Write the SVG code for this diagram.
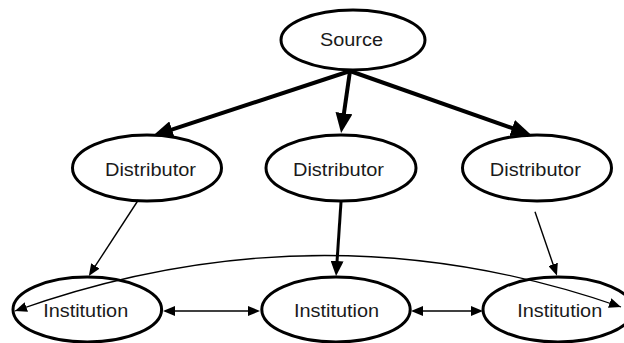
<svg xmlns="http://www.w3.org/2000/svg" width="624" height="343" viewBox="0 0 624 343">
  <style>
    .node ellipse { fill: #ffffff; stroke: #000000; stroke-width: 3; }
    .node text { font-family: "Liberation Sans", Arial, sans-serif; font-size: 18px; fill: #1a1a1a; text-anchor: middle; }
    .edge { fill: none; stroke: #000000; }
    .thick { stroke-width: 4; marker-end: url(#headBig); }
    .mid { stroke-width: 3; marker-end: url(#headMid); }
    .thin { stroke-width: 1.4; marker-end: url(#headSmall); }
    .both { stroke-width: 1.4; marker-start: url(#headSmall); marker-end: url(#headSmall); }
    .arc { stroke-width: 1.3; marker-start: url(#tipSmall); marker-end: url(#tipSmall); }
  </style>
  <defs>
    <!-- heads anchored at their base: the path stops where the head begins -->
    <marker id="headBig" markerUnits="userSpaceOnUse" viewBox="0 -8.5 20 17" markerWidth="20" markerHeight="17" refX="1" refY="0" orient="auto-start-reverse">
      <path d="M0,-8.5 L20,0 L0,8.5 Z" fill="#000"/>
    </marker>
    <marker id="headMid" markerUnits="userSpaceOnUse" viewBox="0 -6.5 15 13" markerWidth="15" markerHeight="13" refX="1" refY="0" orient="auto-start-reverse">
      <path d="M0,-6.5 L15,0 L0,6.5 Z" fill="#000"/>
    </marker>
    <marker id="headSmall" markerUnits="userSpaceOnUse" viewBox="0 -5 12 10" markerWidth="12" markerHeight="10" refX="1" refY="0" orient="auto-start-reverse">
      <path d="M0,-5 L12,0 L0,5 Z" fill="#000"/>
    </marker>
    <!-- head anchored at its tip, for the long arc -->
    <marker id="tipSmall" markerUnits="userSpaceOnUse" viewBox="0 -5 12 10" markerWidth="12" markerHeight="10" refX="12" refY="0" orient="auto-start-reverse">
      <path d="M0,-5 L12,0 L0,5 Z" fill="#000"/>
    </marker>
  </defs>

  <g id="source" class="node">
    <ellipse cx="353" cy="40" rx="72" ry="30"/>
    <text x="351.5" y="45.7" textLength="63" lengthAdjust="spacingAndGlyphs">Source</text>
  </g>

  <g id="distributor-1" class="node">
    <ellipse cx="147" cy="168" rx="74.5" ry="33"/>
    <text x="150.5" y="176" textLength="91" lengthAdjust="spacingAndGlyphs">Distributor</text>
  </g>
  <g id="distributor-2" class="node">
    <ellipse cx="341" cy="168" rx="75" ry="33"/>
    <text x="338.5" y="176" textLength="91" lengthAdjust="spacingAndGlyphs">Distributor</text>
  </g>
  <g id="distributor-3" class="node">
    <ellipse cx="537" cy="168" rx="74.5" ry="33"/>
    <text x="535.3" y="175.5" textLength="91" lengthAdjust="spacingAndGlyphs">Distributor</text>
  </g>

  <g id="institution-1" class="node">
    <ellipse cx="87.3" cy="309.5" rx="74.3" ry="32.5"/>
    <text x="85.7" y="316.7" textLength="85" lengthAdjust="spacingAndGlyphs">Institution</text>
  </g>
  <g id="institution-2" class="node">
    <ellipse cx="336" cy="309.5" rx="74.2" ry="32.5"/>
    <text x="336.5" y="316.7" textLength="85" lengthAdjust="spacingAndGlyphs">Institution</text>
  </g>
  <g id="institution-3" class="node">
    <ellipse cx="558" cy="309.5" rx="75" ry="32.5"/>
    <text x="559.7" y="316.7" textLength="85" lengthAdjust="spacingAndGlyphs">Institution</text>
  </g>

  <!-- connectors sit above the nodes so the long arc crosses the outer institutions -->
  <g id="connectors">
    <!-- source to distributors -->
    <path class="edge thick" d="M350,71 L171,129.8"/>
    <path class="edge thick" d="M350,71 L343.8,114.2"/>
    <path class="edge thick" d="M350,71 L513.1,128.4"/>
    <!-- distributors to institutions -->
    <path class="edge thin" d="M138.3,200 L94.85,266.7"/>
    <path class="edge mid" d="M341,202 L337,262"/>
    <path class="edge thin" d="M535,211.7 L553.4,265.3"/>
    <!-- links between institutions -->
    <path class="edge both" d="M174,311 L249,311"/>
    <path class="edge both" d="M422,311 L472,311"/>
    <path class="edge arc" d="M15,311 Q320,202 621,307"/>
  </g>
</svg>
